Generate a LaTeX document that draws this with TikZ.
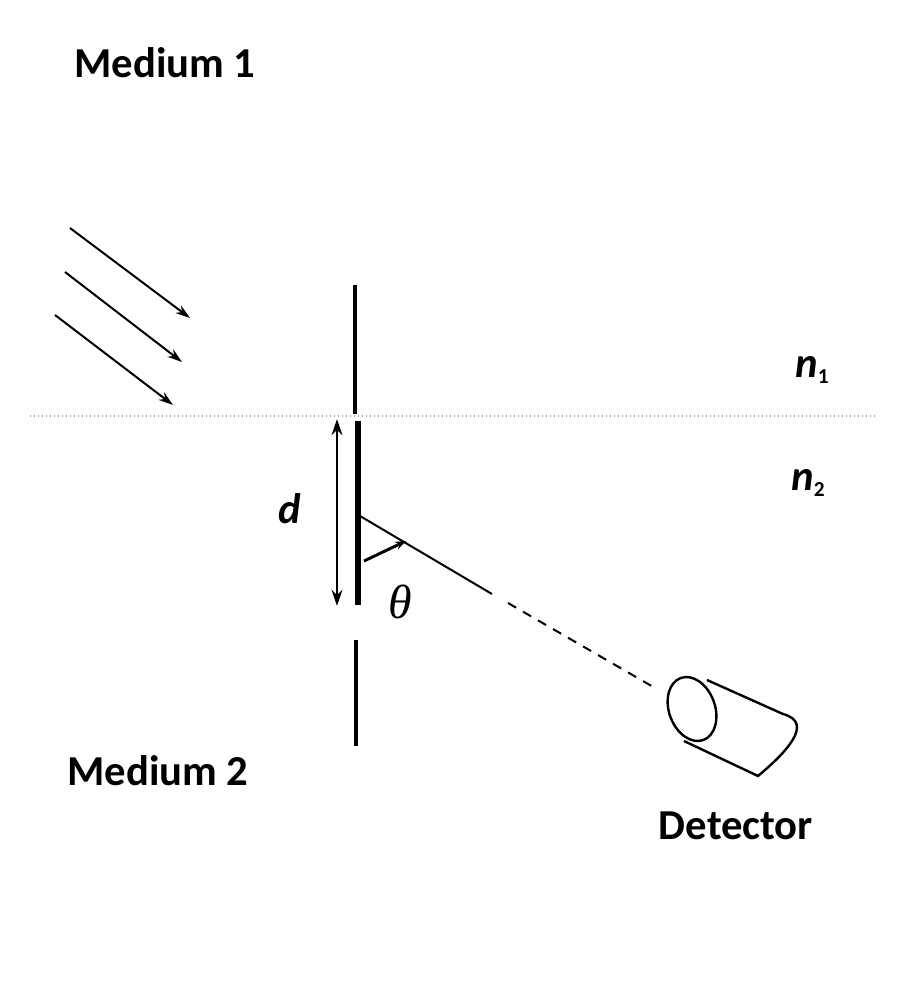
\documentclass[tikz,border=0pt]{standalone}
\usepackage{fontspec}
\setmainfont{Carlito}
\newfontfamily\thetafont{Liberation Serif}
\usetikzlibrary{arrows.meta}
\begin{document}
\begin{tikzpicture}[x=0.75pt,y=-0.75pt,
  lbl/.style={font=\bfseries\fontsize{32}{36}\selectfont},
  ilbl/.style={font=\bfseries\itshape\fontsize{32}{36}\selectfont},
  ray/.style={line width=1.5pt,-{Stealth[length=11pt,width=7pt]}},
  thin wall/.style={line width=2.4pt},
  line/.style={line width=1.5pt}]
\useasboundingbox (0,0) rectangle (900,1003);
\node[lbl] (m1) at (165,63) {Medium 1};
\node[lbl] (m2) at (158,771) {Medium 2};
\node[lbl] (det) at (736,826) {Detector};
\node[ilbl] (n1) at (812,370) {n\raisebox{-4pt}{\upshape\fontsize{16}{18}\selectfont 1}};
\node[ilbl] (n2) at (808,483) {n\raisebox{-4pt}{\upshape\fontsize{16}{18}\selectfont 2}};
\node[ilbl] (d) at (290,509) {d};
\node[font=\thetafont\itshape\fontsize{36}{40}\selectfont] (th) at (400,602) {θ};
% interface
\coordinate (iL) at (30,416); \coordinate (iR) at (875,416);
\draw[gray!70,line width=1pt,dotted] (iL) -- (iR);
% incident rays
\coordinate (a1) at (70,228); \coordinate (b1) at (190,318);
\coordinate (a2) at (65,272); \coordinate (b2) at (182,362);
\coordinate (a3) at (55,315); \coordinate (b3) at (173,405);
\draw[ray] (a1) -- (b1); \draw[ray] (a2) -- (b2); \draw[ray] (a3) -- (b3);
% wall
\coordinate (w1) at (355,285); \coordinate (w2) at (355,414);
\coordinate (s1) at (358,421); \coordinate (s2) at (358,605);
\coordinate (w3) at (356,640); \coordinate (w4) at (356,746);
\draw[thin wall] (w1) -- (w2);
\draw[line width=4.5pt] (s1) -- (s2);
\draw[thin wall] (w3) -- (w4);
% d arrow
\coordinate (d1) at (337,419); \coordinate (d2) at (337,606);
\draw[line width=2pt,{Stealth[length=12pt,width=8pt]}-{Stealth[length=12pt,width=8pt]}] (d1) -- (d2);
% diffracted ray
\coordinate (r0) at (360,516); \coordinate (r1) at (492,594);
\coordinate (r2) at (508,603); \coordinate (r3) at (655,688);
\draw[line] (r0) -- (r1);
\draw[line,dash pattern=on 7pt off 6pt] (r2) -- (r3);
% angle
\coordinate (ang0) at (364,561); \coordinate (ang1) at (406,541);
\draw[line width=2.2pt,-{Stealth[length=8pt,width=6pt]}] (ang0) -- (ang1);
% detector
\begin{scope}[line width=1.8pt]
\coordinate (fc) at (692,709);
\draw[rotate around={20:(fc)}] (fc) ellipse [x radius=23, y radius=33];
\coordinate (ft) at (707,680); \coordinate (bt) at (783,714);
\coordinate (fb) at (684,741); \coordinate (bb) at (758,776);
\draw (ft) -- (bt) to[out=-15,in=40,looseness=1.3] (bb) -- (fb);
\end{scope}
\end{tikzpicture}
\end{document}
